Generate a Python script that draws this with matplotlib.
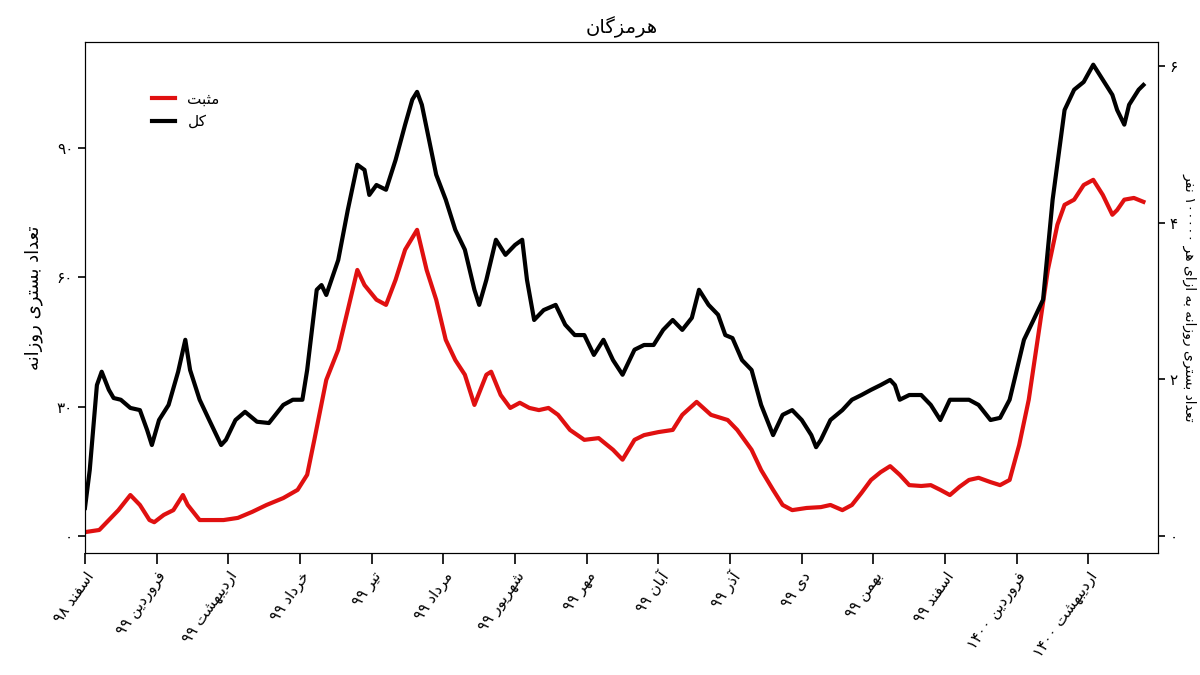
import matplotlib
matplotlib.use("Agg")
import matplotlib.pyplot as plt
from matplotlib.lines import Line2D

# Simple Persian shaping: presentation forms + visual (reversed) order
FORMS = {
    'ا': ('\uFE8D', '\uFE8E', None, None),
    'آ': ('\uFE81', '\uFE82', None, None),
    'ب': ('\uFE8F', '\uFE90', '\uFE91', '\uFE92'),
    'پ': ('\uFB56', '\uFB57', '\uFB58', '\uFB59'),
    'ت': ('\uFE95', '\uFE96', '\uFE97', '\uFE98'),
    'ث': ('\uFE99', '\uFE9A', '\uFE9B', '\uFE9C'),
    'خ': ('\uFEA5', '\uFEA6', '\uFEA7', '\uFEA8'),
    'د': ('\uFEA9', '\uFEAA', None, None),
    'ذ': ('\uFEAB', '\uFEAC', None, None),
    'ر': ('\uFEAD', '\uFEAE', None, None),
    'ز': ('\uFEAF', '\uFEB0', None, None),
    'س': ('\uFEB1', '\uFEB2', '\uFEB3', '\uFEB4'),
    'ش': ('\uFEB5', '\uFEB6', '\uFEB7', '\uFEB8'),
    'ع': ('\uFEC9', '\uFECA', '\uFECB', '\uFECC'),
    'ف': ('\uFED1', '\uFED2', '\uFED3', '\uFED4'),
    'ل': ('\uFEDD', '\uFEDE', '\uFEDF', '\uFEE0'),
    'م': ('\uFEE1', '\uFEE2', '\uFEE3', '\uFEE4'),
    'ن': ('\uFEE5', '\uFEE6', '\uFEE7', '\uFEE8'),
    'ه': ('\uFEE9', '\uFEEA', '\uFEEB', '\uFEEC'),
    'و': ('\uFEED', '\uFEEE', None, None),
    'ی': ('\uFBFC', '\uFBFD', '\uFBFE', '\uFBFF'),
    'ک': ('\uFB8E', '\uFB8F', '\uFB90', '\uFB91'),
    'گ': ('\uFB92', '\uFB93', '\uFB94', '\uFB95'),
}


def shape_word(word):
    out = []
    for i, ch in enumerate(word):
        if ch not in FORMS:
            out.append(ch)
            continue
        prev = word[i - 1] if i > 0 else None
        nxt = word[i + 1] if i + 1 < len(word) else None
        join_prev = prev in FORMS and FORMS[prev][2] is not None
        join_next = nxt in FORMS and FORMS[ch][2] is not None
        iso, fin, ini, med = FORMS[ch]
        if join_prev and join_next:
            out.append(med)
        elif join_prev:
            out.append(fin)
        elif join_next:
            out.append(ini)
        else:
            out.append(iso)
    return ''.join(out)


def fa(text):
    words = []
    for w in text.split(' '):
        if any(c in FORMS for c in w):
            words.append(shape_word(w)[::-1])
        else:
            words.append(w)
    return ' '.join(words[::-1])


title = 'هرمزگان'
month_labels = ['اسفند ۹۸', 'فروردین ۹۹', 'اردیبهشت ۹۹', 'خرداد ۹۹', 'تیر ۹۹',
                'مرداد ۹۹', 'شهریور ۹۹', 'مهر ۹۹', 'آبان ۹۹', 'آذر ۹۹', 'دی ۹۹',
                'بهمن ۹۹', 'اسفند ۹۹', 'فروردین ۱۴۰۰', 'اردیبهشت ۱۴۰۰']
month_days = [i * 30 for i in range(len(month_labels))]

total_days = [0, 2, 5, 7, 10, 12, 15, 19, 23, 26, 28, 31, 35, 39, 42, 44, 48, 52, 57, 59,
              63, 67, 72, 77, 83, 87, 91, 93, 97, 99, 101, 106, 110, 114, 117, 119, 122, 126,
              130, 134, 137, 139, 141, 144, 147, 151, 155, 159, 163, 165, 168, 172, 176, 180,
              183, 185, 188, 192, 197, 201, 205, 209, 213, 217, 221, 225, 230, 234, 238, 242,
              246, 250, 254, 257, 261, 265, 268, 271, 275, 279, 283, 288, 292, 296, 300, 304,
              306, 308, 312, 317, 321, 325, 329, 333, 337, 339, 341, 345, 350, 354, 358, 362,
              366, 370, 374, 379, 383, 387, 389, 393, 397, 401, 405, 410, 414, 418, 422, 426,
              430, 432, 435, 437, 441, 443]
total = [6.5, 15.3, 35.0, 38.1, 33.9, 32.0, 31.6, 29.7, 29.2, 24.6, 21.1, 26.9, 30.4, 38.1,
         45.5, 38.5, 31.6, 26.9, 21.1, 22.3, 26.9, 28.8, 26.5, 26.2, 30.4, 31.6, 31.6, 38.5,
         57.1, 58.2, 55.9, 64.0, 75.6, 86.1, 84.9, 79.1, 81.4, 80.3, 87.2, 95.4, 101.2, 103.0,
         100.0, 91.9, 83.8, 78.0, 71.0, 66.4, 57.1, 53.6, 59.4, 68.7, 65.2, 67.5, 68.7, 59.4,
         50.1, 52.4, 53.6, 49.0, 46.6, 46.6, 42.0, 45.5, 40.8, 37.4, 43.2, 44.3, 44.3, 47.8,
         50.1, 47.8, 50.6, 57.1, 53.6, 51.3, 46.6, 45.9, 40.8, 38.5, 30.4, 23.4, 28.1, 29.2,
         26.9, 23.4, 20.6, 22.3, 26.9, 29.2, 31.6, 32.7, 33.9, 35.0, 36.2, 35.0, 31.6, 32.7,
         32.7, 30.4, 26.9, 31.6, 31.6, 31.6, 30.4, 26.9, 27.4, 31.6, 36.2, 45.5, 50.1, 54.8,
         78.0, 98.8, 103.5, 105.3, 109.3, 105.8, 102.3, 98.8, 95.4, 100.0, 103.5, 104.6]

pos_days = [0, 6, 10, 14, 19, 23, 27, 29, 33, 37, 41, 43, 48, 52, 58, 64, 70, 76, 83, 89,
            93, 96, 101, 106, 110, 114, 117, 122, 126, 130, 134, 139, 143, 147, 151, 155, 159,
            163, 168, 170, 174, 178, 182, 186, 190, 194, 198, 203, 209, 215, 221, 225, 230,
            234, 240, 246, 250, 256, 262, 269, 273, 279, 283, 288, 292, 296, 302, 308, 312,
            317, 321, 325, 329, 333, 337, 341, 345, 350, 354, 358, 362, 366, 370, 374, 379,
            383, 387, 391, 395, 399, 403, 407, 410, 414, 418, 422, 426, 430, 432, 435, 439, 443]
positive = [0.9, 1.4, 3.7, 6.0, 9.5, 7.2, 3.7, 3.2, 4.9, 6.0, 9.5, 7.2, 3.7, 3.7, 3.7, 4.2,
            5.6, 7.2, 8.8, 10.7, 14.2, 22.3, 36.2, 43.2, 52.4, 61.7, 58.2, 54.8, 53.6, 59.4,
            66.4, 71.0, 61.7, 54.8, 45.5, 40.8, 37.4, 30.4, 37.4, 38.1, 32.7, 29.7, 30.9, 29.7,
            29.2, 29.7, 28.1, 24.6, 22.3, 22.7, 20.0, 17.7, 22.3, 23.4, 24.1, 24.6, 28.1, 31.1,
            28.1, 26.9, 24.6, 20.0, 15.3, 10.7, 7.2, 6.0, 6.5, 6.7, 7.2, 6.0, 7.2, 10.0, 13.0,
            14.8, 16.2, 14.2, 11.8, 11.6, 11.8, 10.7, 9.5, 11.4, 13.0, 13.5, 12.5, 11.8, 13.0,
            21.1, 31.6, 46.6, 61.7, 72.2, 76.8, 78.0, 81.4, 82.6, 79.1, 74.5, 75.6, 78.0, 78.4,
            77.5]

left_ticks = [0, 30, 60, 90]
right_ticks = [0, 2, 4, 6]
fa_digits = str.maketrans('0123456789', '۰۱۲۳۴۵۶۷۸۹')

plt.rcParams['font.family'] = ['DejaVu Sans']
fig = plt.figure(figsize=(12, 6.75), dpi=100)
ax = fig.add_axes([0.0708, 0.181, 0.894, 0.757])

ax.plot(pos_days, positive, color='#e01010', lw=3)
ax.plot(total_days, total, color='black', lw=3)
ax.set_xlim(0, 449)
ax.set_ylim(-3.9, 114.6)

ax.set_xticks(month_days)
ax.set_xticklabels([fa(m) for m in month_labels], rotation=55, ha='right',
                   rotation_mode='anchor', fontsize=11)
ax.set_yticks(left_ticks)
ax.set_yticklabels([str(t).translate(fa_digits) for t in left_ticks], fontsize=11)
ax.tick_params(axis='x', length=8, width=1.2)
ax.tick_params(axis='y', length=5, width=1.2)
ax.set_ylabel(fa('تعداد بستری روزانه'), fontsize=13, labelpad=10)
ax.set_title(fa(title), fontsize=14)

ax2 = ax.twinx()
ax2.set_ylim(-0.22, 6.31)
ax2.set_yticks(right_ticks)
ax2.set_yticklabels([str(t).translate(fa_digits) for t in right_ticks], fontsize=11)
ax2.tick_params(axis='y', length=5, width=1.2)
fig.text(0.991, 0.56, fa('تعداد بستری روزانه به ازای هر ۱۰۰۰۰۰ نفر'), fontsize=10,
         rotation=-90, ha='center', va='center')

handles = [Line2D([], [], color='#e01010', lw=3), Line2D([], [], color='black', lw=3)]
ax.legend(handles, [fa('مثبت'), fa('کل')], loc='upper left', bbox_to_anchor=(0.05, 0.93),
          frameon=False, fontsize=11, handlelength=1.5)

fig.savefig('out.png', dpi=100)
